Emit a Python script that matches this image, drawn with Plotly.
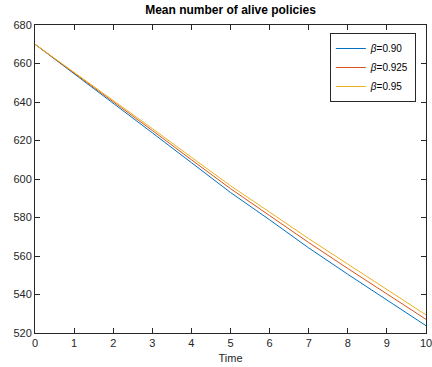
import plotly.graph_objects as go

time = [0, 1, 2, 3, 4, 5, 6, 7, 8, 9, 10]
beta_090 = [670, 654.8, 639.5, 624.0, 608.5, 593.0, 578.8, 564.2, 550.5, 537.0, 523.8]
beta_0925 = [670, 655.2, 640.3, 625.2, 610.0, 595.0, 581.0, 567.0, 553.5, 540.3, 527.1]
beta_095 = [670, 655.5, 641.0, 626.2, 611.3, 596.5, 582.8, 569.0, 555.8, 542.5, 529.4]
labels = ["<i>β</i>=0.90", "<i>β</i>=0.925", "<i>β</i>=0.95"]
colors = ["#0072BD", "#D95319", "#EDB120"]

fig = go.Figure()
for ys, lab, col in zip([beta_090, beta_0925, beta_095], labels, colors):
    fig.add_trace(go.Scatter(x=time, y=ys, mode="lines", name=lab,
                             line=dict(color=col, width=1)))

axcol = "#262626"
common = dict(showgrid=False, zeroline=False, showline=True, linecolor=axcol,
              linewidth=1, mirror="ticks", ticks="inside", ticklen=5,
              tickcolor=axcol, tickfont=dict(size=11, color=axcol),
              ticklabeloverflow="allow", automargin=False)
fig.update_layout(
    width=432, height=367,
    margin=dict(l=35, r=6, t=25, b=34),
    paper_bgcolor="white", plot_bgcolor="white",
    font=dict(family="Liberation Sans, Arial, sans-serif", color=axcol),
    title=dict(text="<b>Mean number of alive policies</b>", x=0.5, xanchor="center",
               xref="paper", y=1, yref="container", yanchor="top", pad=dict(t=6),
               font=dict(size=12, color="black")),
    xaxis=dict(range=[0, 10], dtick=1, tick0=0,
               title=dict(text="Time", font=dict(size=11, color=axcol), standoff=6), **common),
    yaxis=dict(range=[520, 680], dtick=20, tick0=520, **common),
    legend=dict(x=0.974, y=0.974, xanchor="right", yanchor="top",
                bgcolor="white", bordercolor=axcol, borderwidth=1,
                font=dict(size=10, color="black"), tracegroupgap=0,
                itemwidth=30),
    showlegend=True,
)
fig.write_html("out.html")
